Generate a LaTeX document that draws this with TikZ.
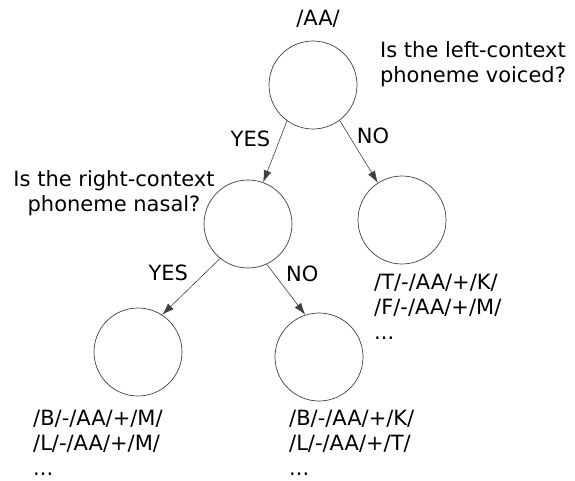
\documentclass[tikz,border=0pt]{standalone}
\usepackage{fontspec}
\setmainfont{DejaVu Sans}
\usetikzlibrary{arrows.meta}

\begin{document}
\begin{tikzpicture}
           [x=1pt,y=-1pt,
            every node/.style={font=\fontsize{21}{25.5}\selectfont},
            test/.style={circle,draw=black!75,line width=0.7pt,minimum size=88pt,inner sep=0pt},
            branch/.style={draw=black!75,line width=0.6pt,-{Latex[length=12pt,width=8pt]}},
            leaves/.style={align=left,anchor=north west,inner sep=0pt,
                           font=\fontsize{21}{25}\selectfont}]
           \useasboundingbox (0,0) rectangle (575,480);

           % the decision nodes
           \node[test] (AA) at (313,85) {};
           \node[test] (L) at (248,224) {};
           \node[test] (R) at (402,220) {};
           \node[test] (LL) at (138,352) {};
           \node[test] (LR) at (319,357) {};

           % questions
           \node (AAname) at (318,19) {/AA/};
           \node[align=center] (Q1) at (473,64) {Is the left-context\\phoneme voiced?};
           \node[align=center] (Q2) at (114,193) {Is the right-context\\phoneme nasal?};

           % answers
           \draw[branch] (AA.234) -- (L.70) node[pos=0.3,left=6pt] (y1) {YES};
           \draw[branch] (AA.307) -- (R.123) node[pos=0.25,right=4pt] (n1) {NO};
           \draw[branch] (L.231) -- (LL.57) node[pos=0.25,left=14pt] (y2) {YES};
           \draw[branch] (L.295) -- (LR.108) node[pos=0.2,right=8pt] (n2) {NO};

           % contexts that end in each leaf
           \node[leaves] (Rset) at (374,274) {/T/-/AA/+/K/\\/F/-/AA/+/M/\\...};
           \node[leaves] (LLset) at (33,410) {/B/-/AA/+/M/\\/L/-/AA/+/M/\\...};
           \node[leaves] (LRset) at (289,410) {/B/-/AA/+/K/\\/L/-/AA/+/T/\\...};
         \end{tikzpicture}
\end{document}
